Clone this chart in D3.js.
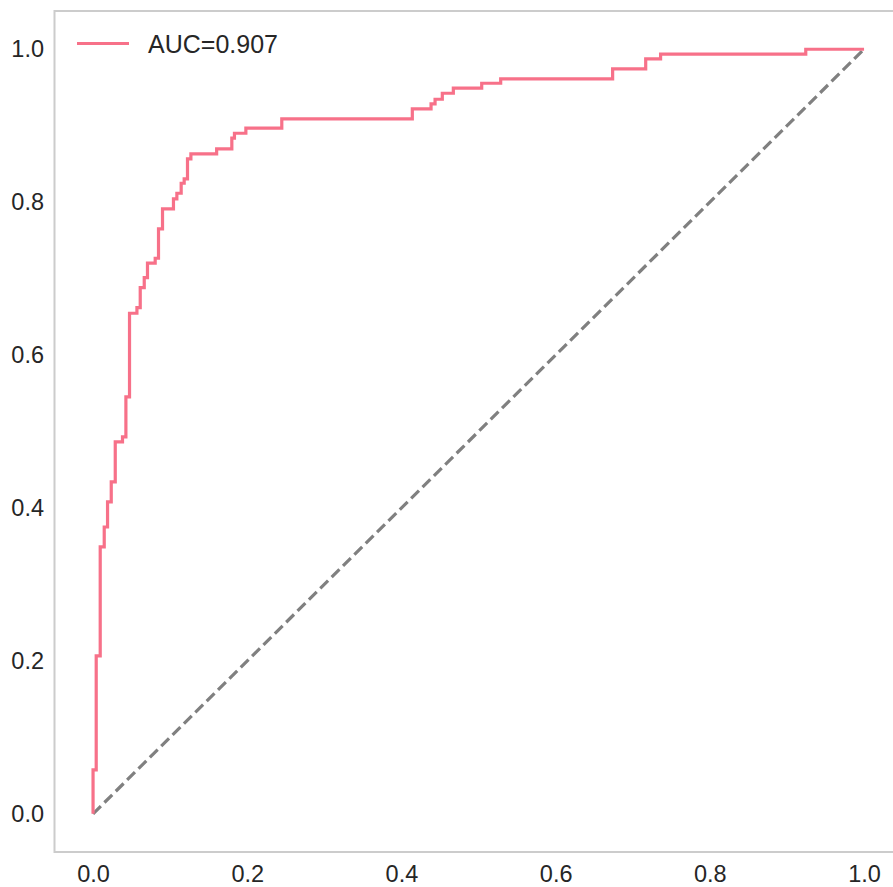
<!DOCTYPE html>
<html>
<head>
<meta charset="utf-8">
<script src="https://cdn.jsdelivr.net/npm/d3@7"></script>
<style>
  body { margin: 0; background: #fff; }
  svg { display: block; }
</style>
</head>
<body>
<div id="chart"></div>
<script>
var width = 893;
var height = 887;

// ROC curve corners
var fpr = [0, 0, 0.0041, 0.0041, 0.0093, 0.0093, 0.0145, 0.0145, 0.0188, 0.0188,
  0.0236, 0.0236, 0.0288, 0.0288, 0.0382, 0.0382, 0.0426, 0.0426, 0.0473, 0.0473,
  0.0569, 0.0569, 0.0612, 0.0612, 0.0664, 0.0664, 0.0706, 0.0706, 0.0806, 0.0806,
  0.0849, 0.0849, 0.0901, 0.0901, 0.1043, 0.1043, 0.1087, 0.1087, 0.1143, 0.1143,
  0.1182, 0.1182, 0.1225, 0.1225, 0.1269, 0.1269, 0.1603, 0.1603, 0.18, 0.18,
  0.1834, 0.1834, 0.1982, 0.1982, 0.2448, 0.2448, 0.4141, 0.4141, 0.4384, 0.4384,
  0.4436, 0.4436, 0.453, 0.453, 0.4673, 0.4673, 0.5041, 0.5041, 0.5287, 0.5287,
  0.6739, 0.6739, 0.7168, 0.7168, 0.7361, 0.7361, 0.9244, 0.9244, 1];
var tpr = [0, 0.0573, 0.0573, 0.2064, 0.2064, 0.349, 0.349, 0.3751, 0.3751, 0.4079,
  0.4079, 0.434, 0.434, 0.4863, 0.4863, 0.4929, 0.4929, 0.5452, 0.5452, 0.6547,
  0.6547, 0.662, 0.662, 0.6882, 0.6882, 0.7012, 0.7012, 0.7201, 0.7201, 0.7266,
  0.7266, 0.7649, 0.7649, 0.7911, 0.7911, 0.8042, 0.8042, 0.8116, 0.8116, 0.8247,
  0.8247, 0.8303, 0.8303, 0.8565, 0.8565, 0.863, 0.863, 0.8696, 0.8696, 0.8836,
  0.8836, 0.8901, 0.8901, 0.8967, 0.8967, 0.9088, 0.9088, 0.9219, 0.9219, 0.9284,
  0.9284, 0.9346, 0.9346, 0.9424, 0.9424, 0.949, 0.949, 0.9555, 0.9555, 0.9611,
  0.9611, 0.9742, 0.9742, 0.9873, 0.9873, 0.9935, 0.9935, 1, 1];
var chance = [0, 1];
var tickValues = [0, 0.2, 0.4, 0.6, 0.8, 1.0];
var legendLabel = "AUC=0.907";

var pink = "#f77189";
var textColor = "#262626";

var svg = d3
  .select("#chart")
  .append("svg")
  .attr("width", width)
  .attr("height", height);

var xScale = d3.scaleLinear().domain([-0.05, 1.05]).range([54.5, 902.6]);
var yScale = d3.scaleLinear().domain([-0.05, 1.05]).range([852, 11]);

var rocData = fpr.map(function (d, i) {
  return { x: d, y: tpr[i] };
});

var line = d3
  .line()
  .x(function (d) { return xScale(d.x); })
  .y(function (d) { return yScale(d.y); });

// frame
svg
  .append("rect")
  .attr("x", xScale(-0.05))
  .attr("y", yScale(1.05))
  .attr("width", xScale(1.05) - xScale(-0.05))
  .attr("height", yScale(-0.05) - yScale(1.05))
  .attr("fill", "none")
  .attr("stroke", "#cccccc")
  .attr("stroke-width", 2);

// chance line
svg
  .append("path")
  .datum(chance.map(function (d) { return { x: d, y: d }; }))
  .attr("d", line)
  .attr("fill", "none")
  .attr("stroke", "#808080")
  .attr("stroke-width", 3.2)
  .attr("stroke-dasharray", "11,5");

// roc curve
svg
  .append("path")
  .datum(rocData)
  .attr("d", line)
  .attr("fill", "none")
  .attr("stroke", pink)
  .attr("stroke-width", 3.2)
  .attr("stroke-linejoin", "miter");

var xAxis = d3
  .axisBottom(xScale)
  .tickValues(tickValues)
  .tickSize(0)
  .tickPadding(13)
  .tickFormat(d3.format(".1f"));

var yAxis = d3
  .axisLeft(yScale)
  .tickValues(tickValues)
  .tickSize(0)
  .tickPadding(10.5)
  .tickFormat(d3.format(".1f"));

var gx = svg
  .append("g")
  .attr("transform", "translate(0," + yScale(-0.05) + ")")
  .call(xAxis);

var gy = svg
  .append("g")
  .attr("transform", "translate(" + xScale(-0.05) + ",0)")
  .call(yAxis);

[gx, gy].forEach(function (g) {
  g.select(".domain").remove();
  g.selectAll("text")
    .attr("fill", textColor)
    .attr("font-family", "Liberation Sans, Arial, sans-serif")
    .attr("font-size", "23.5px");
});

// legend
var legend = svg.append("g");
legend
  .append("line")
  .attr("x1", 77)
  .attr("x2", 129)
  .attr("y1", 43.5)
  .attr("y2", 43.5)
  .attr("stroke", pink)
  .attr("stroke-width", 3.2);
legend
  .append("text")
  .attr("x", 148)
  .attr("y", 52.5)
  .attr("fill", textColor)
  .attr("font-family", "Liberation Sans, Arial, sans-serif")
  .attr("font-size", "25px")
  .text(legendLabel);
</script>
</body>
</html>
